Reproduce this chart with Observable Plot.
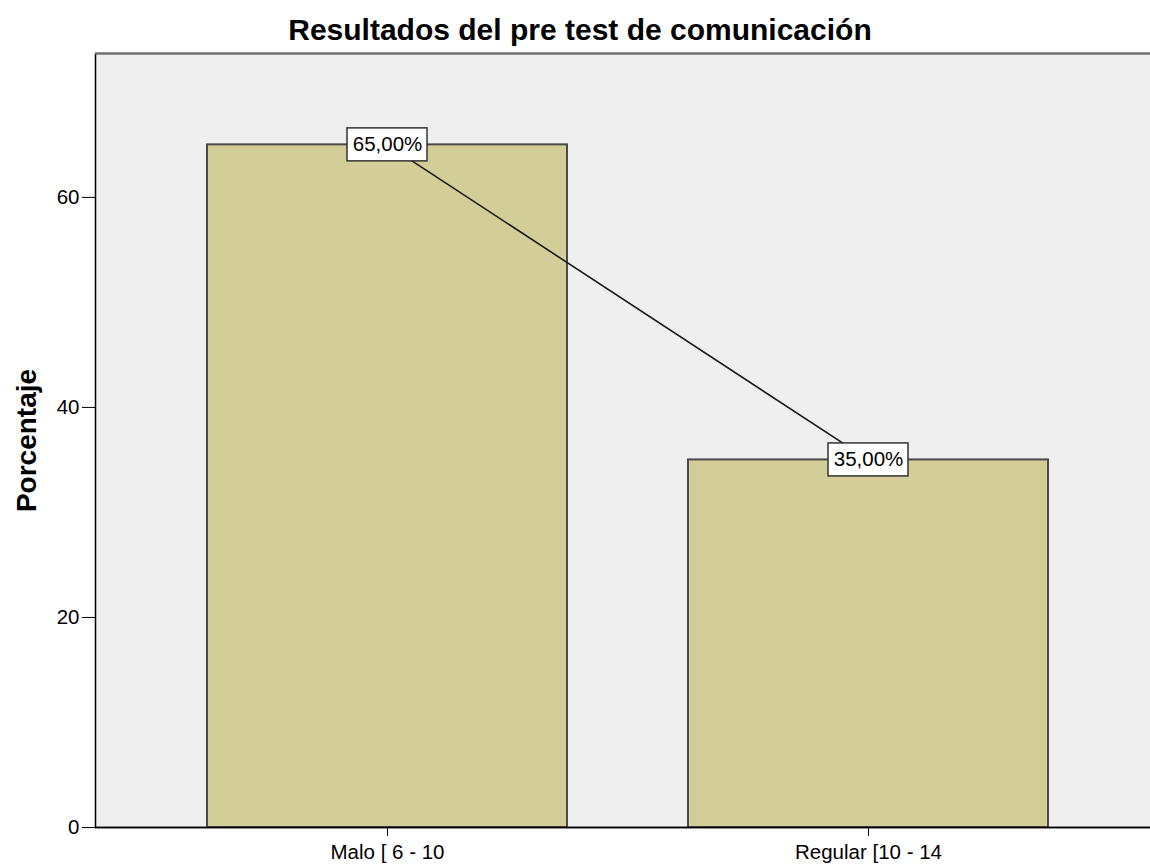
<!DOCTYPE html>
<html>
<head>
<meta charset="utf-8">
<script src="https://cdn.jsdelivr.net/npm/d3@7"></script>
<script src="https://cdn.jsdelivr.net/npm/@observablehq/plot@0.6"></script>
<style>
  html, body { margin: 0; padding: 0; background: white; overflow: hidden; width: 1150px; height: 865px; }
  #title { height: 43px; line-height: 60px; font-family: "Liberation Sans", Arial, sans-serif; font-weight: bold; font-size: 30px; text-align: center; padding-left: 10px; white-space: nowrap; color: #000; }
  #chart svg { overflow: hidden; display: block; }
</style>
</head>
<body>
<div id="title">Resultados del pre test de comunicación</div>
<div id="chart"></div>
<script>
const categories = ["Malo [ 6 - 10", "Regular [10 - 14"];
const percentages = [65, 35];
const valueLabels = ["65,00%", "35,00%"];
const yTicks = [0, 20, 40, 60];
const yAxisTitle = "Porcentaje";
const yMax = 73.7;

const data = categories.map((c, i) => ({cat: c, pct: percentages[i], label: valueLabels[i]}));
const boxHalf = 1.57; // half box height in y units

const chart = Plot.plot({
  width: 1150,
  height: 822,
  marginLeft: 95,
  marginRight: -10,
  marginTop: 10,
  marginBottom: 38,
  style: {fontFamily: "'Liberation Sans', Arial, sans-serif", fontSize: "20.5px", color: "black", background: "white", overflow: "hidden"},
  x: {domain: categories, paddingInner: 0.252, paddingOuter: 0.233, label: null, tickSize: 9, tickPadding: 8},
  y: {domain: [0, yMax], ticks: yTicks, tickSize: 13, tickPadding: 3, label: null, tickFormat: d => String(d)},
  marks: [
    Plot.frame({fill: "#efefef", stroke: "black", strokeWidth: 1.5}),
    Plot.ruleY([yMax], {stroke: "#6e6e6e", strokeWidth: 2}),
    Plot.barY(data, {x: "cat", y: "pct", fill: "#d3ce98", stroke: "#4a4a4a", strokeWidth: 2}),
    Plot.ruleY([0], {stroke: "black", strokeWidth: 1.5}),
    Plot.line(data, {x: "cat", y: "pct", stroke: "#1a1a1a", strokeWidth: 1.6}),
    Plot.rectY(data, {x: "cat", y1: d => d.pct - boxHalf, y2: d => d.pct + boxHalf, insetLeft: 140, insetRight: 140, fill: "white", stroke: "#333", strokeWidth: 1.5}),
    Plot.text(data, {x: "cat", y: "pct", text: "label", fontSize: 20.5, fill: "black"}),
    Plot.text([yAxisTitle], {frameAnchor: "left", textAnchor: "middle", rotate: -90, dx: -68, fontWeight: "bold", fontSize: 28, fill: "black"})
  ]
});
document.getElementById("chart").appendChild(chart);
</script>
</body>
</html>
